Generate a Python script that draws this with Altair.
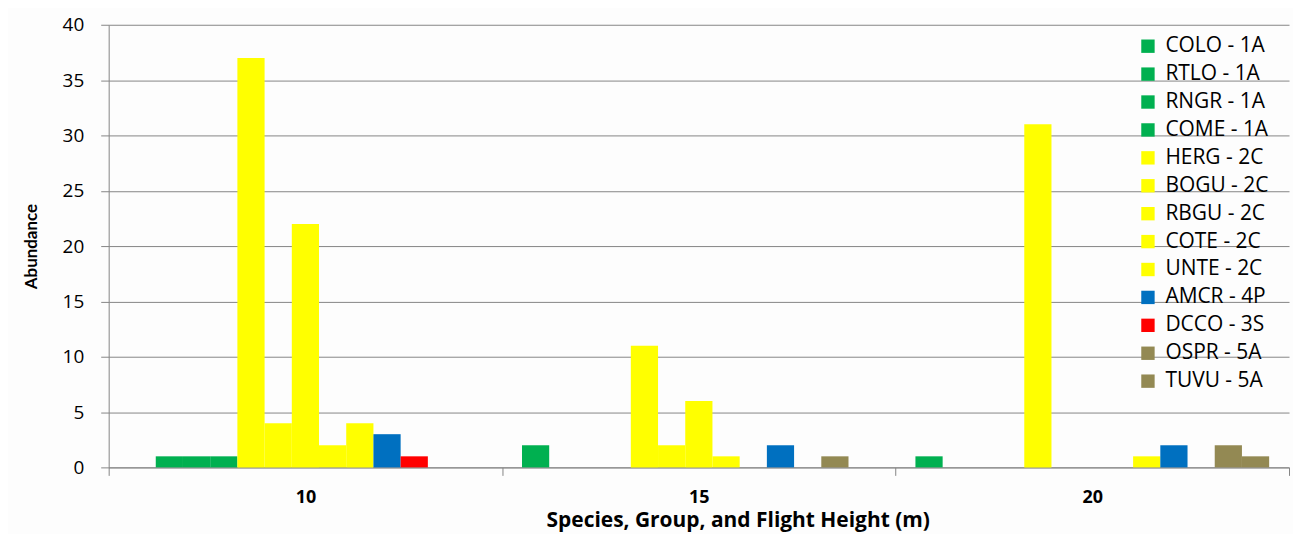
import altair as alt
import pandas as pd

heights = ["10", "15", "20"]
species = ["COLO - 1A", "RTLO - 1A", "RNGR - 1A", "COME - 1A",
           "HERG - 2C", "BOGU - 2C", "RBGU - 2C", "COTE - 2C", "UNTE - 2C",
           "AMCR - 4P", "DCCO - 3S", "OSPR - 5A", "TUVU - 5A"]
colors = ["#00B050", "#00B050", "#00B050", "#00B050",
          "#FFFF00", "#FFFF00", "#FFFF00", "#FFFF00", "#FFFF00",
          "#0070C0", "#FF0000", "#938953", "#938953"]
h10 = [0, 1, 1, 1, 37, 4, 22, 2, 4, 3, 1, 0, 0]
h15 = [2, 0, 0, 0, 11, 2, 6, 1, 0, 2, 0, 1, 0]
h20 = [1, 0, 0, 0, 31, 0, 0, 0, 1, 2, 0, 2, 1]
y_ticks = [0, 5, 10, 15, 20, 25, 30, 35, 40]

rows = []
for h, vals in zip(heights, [h10, h15, h20]):
    for i, (s, v) in enumerate(zip(species, vals)):
        rows.append({"height": h, "species": s, "order": i, "value": v})
df = pd.DataFrame(rows)

FONT = "Open Sans"

chart = alt.Chart(df).mark_bar(clip=False).encode(
    x=alt.X("height:N", sort=heights,
            scale=alt.Scale(paddingInner=0, paddingOuter=0),
            axis=alt.Axis(title="Species, Group, and Flight Height (m)", labelAngle=0,
                          tickBand="extent", tickSize=8, tickColor="#868686",
                          domainColor="#868686", labelFontSize=18, labelFont=FONT,
                          labelFontWeight="bold", labelColor="#000000", labelPadding=13,
                          titleFontSize=21, titleFont=FONT, titleFontWeight="bold",
                          titleColor="#000000", titlePadding=3,
                          titleX=631, titleAlign="center", grid=False)),
    xOffset=alt.XOffset("species:N", sort=species,
                        scale=alt.Scale(paddingInner=0, paddingOuter=0.73)),
    y=alt.Y("value:Q", scale=alt.Scale(domain=[0, 40], nice=False),
            axis=alt.Axis(title="Abundance", values=y_ticks, tickSize=8,
                          tickColor="#868686", domainColor="#868686",
                          gridColor="#868686", gridWidth=1,
                          labelFontSize=19, labelFont=FONT, labelColor="#000000",
                          labelPadding=17, titleFontSize=17, titleFont="Lato",
                          titleFontWeight="bold", titleColor="#000000",
                          titlePadding=22)),
    color=alt.Color("species:N", sort=species,
                    scale=alt.Scale(domain=species, range=colors),
                    legend=alt.Legend(title=None, orient="none", legendX=1032,
                                      legendY=11, symbolType="square",
                                      symbolSize=180, symbolStrokeWidth=0,
                                      labelFontSize=21, labelFont=FONT,
                                      labelColor="#000000", rowPadding=6,
                                      labelOffset=7)),
).properties(
    width=1184,
    height=444,
    background="#FDFDFD",
    padding={"left": 101, "top": 16, "right": 4, "bottom": 66},
    autosize=alt.AutoSizeParams(type="none"),
).configure_view(stroke=None)

chart.save("out.html", embed_options={"renderer": "svg", "actions": False})
